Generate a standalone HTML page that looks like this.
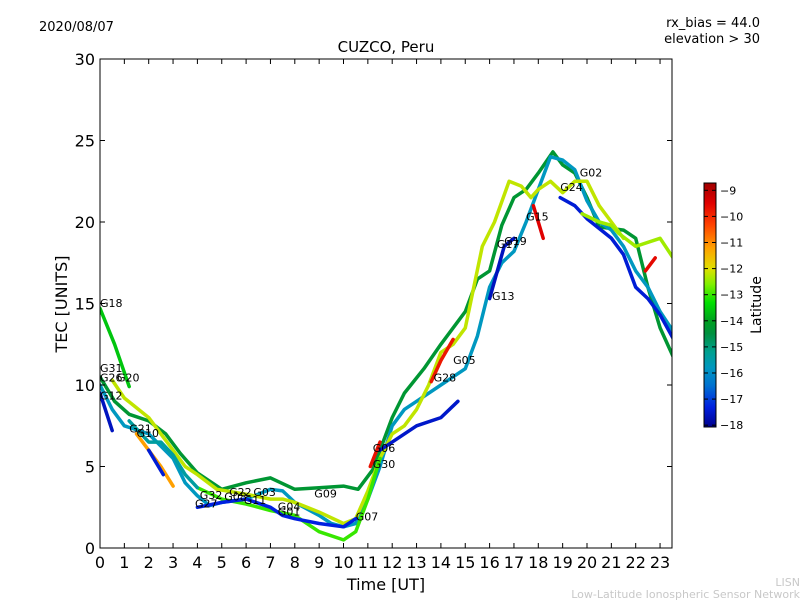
<!DOCTYPE html>
<html><head><meta charset="utf-8">
<style>
body{margin:0;background:#fff;}
svg text{font-family:"DejaVu Sans","Liberation Sans",sans-serif;}
</style></head>
<body>
<svg id="chart" width="800" height="600" viewBox="0 0 800 600" xmlns="http://www.w3.org/2000/svg">
<defs>
<linearGradient id="cbg" x1="0" y1="1" x2="0" y2="0"></linearGradient>
<clipPath id="pc"><rect x="100" y="59" width="572" height="489"/></clipPath>
</defs>
<rect width="800" height="600" fill="#fff"/>
<text x="39" y="31" font-size="13">2020/08/07</text>
<text x="760" y="27" font-size="13" text-anchor="end">rx_bias = 44.0</text>
<text x="760" y="43" font-size="13" text-anchor="end">elevation &gt; 30</text>
<text x="386" y="52" font-size="15" text-anchor="middle">CUZCO, Peru</text>
<g id="tracks" clip-path="url(#pc)"></g>
<rect x="100" y="59" width="572" height="489" fill="none" stroke="#000" stroke-width="1"/>
<g id="axes"></g>
<text x="386" y="590" font-size="16" text-anchor="middle">Time [UT]</text>
<text transform="translate(67,304) rotate(-90)" font-size="16" text-anchor="middle">TEC [UNITS]</text>
<rect x="704" y="183" width="12" height="244" fill="url(#cbg)" stroke="#000" stroke-width="1"/>
<g id="cbticks"></g>
<text transform="translate(761,305) rotate(-90)" font-size="14" text-anchor="middle">Latitude</text>
<text x="800" y="586" font-size="11" fill="#c8c8c8" text-anchor="end">LISN</text>
<text x="800" y="598" font-size="11" fill="#c8c8c8" text-anchor="end">Low-Latitude Ionospheric Sensor Network</text>
</svg>
<script>
const xTicks=[0,1,2,3,4,5,6,7,8,9,10,11,12,13,14,15,16,17,18,19,20,21,22,23];
const yTicks=[0,5,10,15,20,25,30];
const cbTicks=[-9,-10,-11,-12,-13,-14,-15,-16,-17,-18];
const trackTimes=[
[0,0.6,1.2],
[0,0.6,1.2,2,2.7,3.3,4,5,6,7,8,9,10,10.6,11.2,12,12.5,13.3,14,15,15.5,16,16.5,17,17.5,18,18.6,19,19.5,20,20.5,21.5,22,22.5,23,23.67],
[0,0.5,1,2,3,3.5,4,4.5,5,6,7,7.5,8,9,9.5,10,10.5,11,11.5,12,12.5,13,14,15,15.5,16,16.5,17,17.5,18,18.5,19,19.5,20,20.5,21,21.5,22,22.5,23,23.67],
[0.5,1,2,2.5,3,3.5,4,4.8,6,7,7.5,8,9,10,10.5,11,11.5,12,12.5,13,13.5,14,14.5,15,15.7,16.2,16.8,17.3,17.7,18,18.5,19,19.5,20,20.5,21,21.5],
[4,5,6,7,8,9,10,10.5,11,11.5],
[4,5,6,7,7.5,8,9,10,10.5],
[11.5,12,13,14,14.7],
[16,16.6,17],
[18.9,19.5,20,21,21.5,22,22.5,23,23.67],
[13.6,14,14.5],
[22.4,22.8],
[17.8,18.2],
[11.1,11.5],
[1.2,2,2.5,3,3.5,4],
[1.5,2.5,3],
[2,2.6],
[0,0.5],
[19.8,20.5,21,21.3,22,23,23.67]
];
const trackTec=[
[14.7,12.5,9.9],
[10.5,9,8.2,7.8,7,5.8,4.6,3.6,4,4.3,3.6,3.7,3.8,3.6,4.8,8,9.5,11,12.5,14.5,16.5,17,19.8,21.5,22,23,24.3,23.5,23,21.5,19.7,19.5,19,16,13.5,11.3],
[10,8.5,7.5,7,5.5,4,3.2,2.6,2.8,3,3.6,3.5,2.8,2,1.5,1.3,1.5,3,5,7.5,8.5,9,10,11,13,16,17.5,18.2,20,22,24,23.8,23.2,21.3,20,19.5,18.5,17,16,14.5,13],
[10.3,9.2,8,7,6,5,4.5,3.6,3.3,3,3,2.8,2.2,1.5,1.8,3.5,5.5,7,7.5,8.5,10,12,12.5,13.5,18.5,20,22.5,22.2,21.5,22,22.5,21.8,22.5,22.5,21,20,19],
[3.7,3,2.7,2.3,2,1,0.5,1,3,5.5],
[2.5,2.8,3,2.5,2,1.8,1.5,1.3,1.8],
[6,6.5,7.5,8,9],
[15.3,18.5,19],
[21.5,21,20.2,19,18,16,15.3,14.3,12.5],
[10.2,11.5,12.8],
[17,17.8],
[21,19],
[5,6.5],
[7.8,6.5,6.5,5.7,4.5,3.7],
[7,5,3.8],
[6,4.5],
[9.5,7.2],
[20.5,20,19.8,19.3,18.5,19,17.5]
];
const trackLat=[-13.6,-14.3,-15.8,-12.2,-13.0,-17.3,-17.5,-17.6,-17.4,-9.8,-9.6,-9.5,-9.7,-15.4,-11.2,-17.4,-17.6,-12.4];
const labelNames=["G18","G31","G26","G20","G12","G21","G10","G32","G27","G08","G22","G03","G11","G09","G04","G01","G07","G06","G30","G05","G28","G13","G17","G19","G15","G02","G24"];
const labelTimes=[0,0,0,0.7,0,1.2,1.5,4.1,3.9,5.1,5.3,6.3,5.9,8.8,7.3,7.3,10.5,11.2,11.2,14.5,13.7,16.1,16.3,16.6,17.5,19.7,18.9];
const labelTec=[14.8,10.8,10.2,10.2,9.1,7.1,6.8,3,2.5,2.9,3.2,3.2,2.7,3.1,2.3,2,1.7,5.9,4.9,11.3,10.2,15.2,18.4,18.6,20.1,22.8,21.9];

const X0=100,PX=24.35,Y0=548,PY=16.3;
const xs=t=>X0+t*PX, ys=v=>Y0-v*PY;
const cbTop=183,cbBot=427,latTop=-8.72,latBot=-18.07;
const cbY=l=>cbTop+(l-latTop)/(latBot-latTop)*(cbBot-cbTop);
const stops=[[-18.07,[0,0,140]],[-17.3,[0,32,224]],[-16.5,[0,112,208]],[-15.8,[0,152,192]],[-15.2,[0,160,144]],[-14.5,[0,144,64]],[-14,[0,160,32]],[-13.3,[0,224,0]],[-12.6,[128,240,0]],[-12,[224,224,0]],[-11.2,[255,160,0]],[-10.3,[255,64,0]],[-9.5,[224,0,0]],[-8.72,[160,0,0]]];
function cmap(l){
  for(let i=0;i<stops.length-1;i++){const a=stops[i],b=stops[i+1];
    if(l<=b[0]||i===stops.length-2){let f=Math.max(0,Math.min(1,(l-a[0])/(b[0]-a[0])));
      return 'rgb('+a[1].map((c,k)=>Math.round(c+(b[1][k]-c)*f)).join(',')+')';}}
}
const NS='http://www.w3.org/2000/svg';
function mk(tag,attrs,parent){const e=document.createElementNS(NS,tag);for(const k in attrs)e.setAttribute(k,attrs[k]);parent.appendChild(e);return e;}
const g=document.getElementById('tracks');
trackTimes.forEach((ts,i)=>{
  const pts=ts.map((t,j)=>xs(t).toFixed(1)+','+ys(trackTec[i][j]).toFixed(1)).join(' ');
  const p=mk('polyline',{points:pts,fill:'none',stroke:cmap(trackLat[i]),'stroke-width':3.5,'stroke-linejoin':'round','stroke-linecap':'round'},g);
  
  
});
labelNames.forEach((n,i)=>{
  const t=mk('text',{x:xs(labelTimes[i]).toFixed(1),y:ys(labelTec[i]).toFixed(1),'font-size':11},g);
  t.textContent=n;
  
  
});
const ax=document.getElementById('axes');
xTicks.forEach(t=>{
  const x=xs(t);
  const l1=mk('line',{x1:x,y1:548,x2:x,y2:543,stroke:'#000'},ax);
  
  
  mk('line',{x1:x,y1:59,x2:x,y2:64,stroke:'#000'},ax);
  const tx=mk('text',{x:x,y:568,'font-size':16,'text-anchor':'middle'},ax);
  tx.textContent=t;
  
  
});
yTicks.forEach(v=>{
  const y=ys(v);
  const l1=mk('line',{x1:100,y1:y,x2:105,y2:y,stroke:'#000'},ax);
  
  
  mk('line',{x1:672,y1:y,x2:667,y2:y,stroke:'#000'},ax);
  const tx=mk('text',{x:95,y:y+6,'font-size':16,'text-anchor':'end'},ax);
  tx.textContent=v;
  
  
});
const grad=document.getElementById('cbg');
stops.forEach(s=>{
  const f=(s[0]-latBot)/(latTop-latBot);
  mk('stop',{offset:f.toFixed(3),'stop-color':cmap(s[0])},grad);
});
const cb=document.getElementById('cbticks');
cbTicks.forEach(l=>{
  const y=cbY(l);
  mk('line',{x1:716,y1:y,x2:712,y2:y,stroke:'#000'},cb);
  mk('line',{x1:704,y1:y,x2:708,y2:y,stroke:'#000'},cb);
  const tx=mk('text',{x:720,y:y+4,'font-size':11},cb);
  tx.textContent='\u2212'+Math.abs(l);
  
  
});
</script>
</body></html>
